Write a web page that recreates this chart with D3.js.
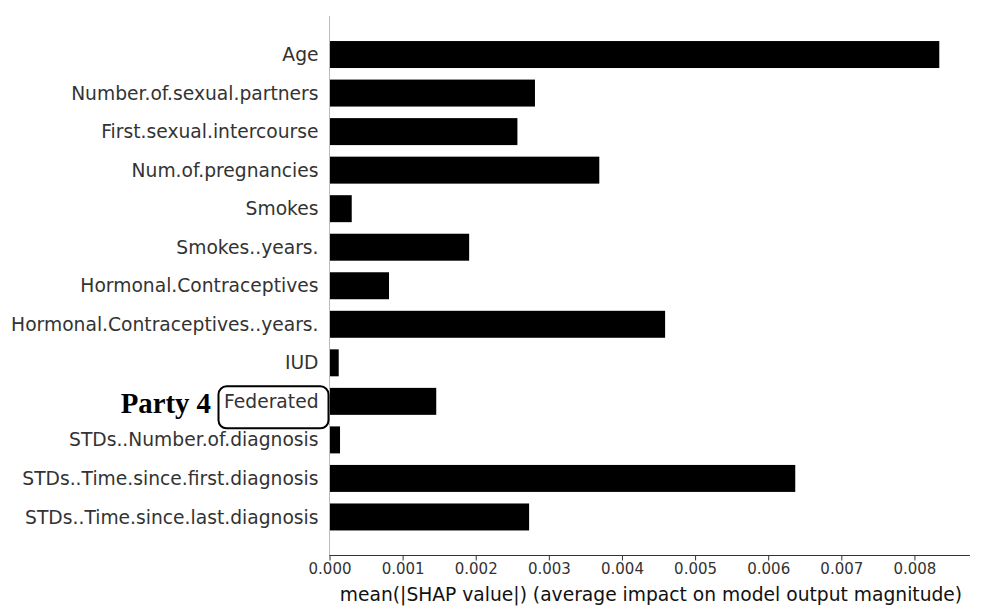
<!DOCTYPE html>
<html><head><meta charset="utf-8">
<script src="https://cdn.jsdelivr.net/npm/d3@7"></script>
<style>body{margin:0;background:#fff}svg{display:block}</style>
</head><body>
<svg id="c" width="985" height="616"></svg>
<script>
const features = ["Age","Number.of.sexual.partners","First.sexual.intercourse","Num.of.pregnancies","Smokes","Smokes..years.","Hormonal.Contraceptives","Hormonal.Contraceptives..years.","IUD","Federated","STDs..Number.of.diagnosis","STDs..Time.since.first.diagnosis","STDs..Time.since.last.diagnosis"];
const values = [0.00834,0.00281,0.00257,0.00369,0.000304,0.00191,0.000814,0.00459,0.000126,0.00146,0.000144,0.00637,0.00273];
const xTicks = [0,0.001,0.002,0.003,0.004,0.005,0.006,0.007,0.008];
const xLabel = "mean(|SHAP value|) (average impact on model output magnitude)";
const partyLabel = "Party 4";
const boxedFeature = "Federated";

const svg = d3.select("#c");
const mLeft = 329.5, mRight = 970, mTop = 16, mBottom = 555.5;
const x = d3.scaleLinear().domain([0, 0.00876]).range([mLeft, mRight]);
const y = d3.scaleLinear().domain([-1, features.length]).range([mTop, mBottom]);
const bh = (y(1) - y(0)) * 0.7;

svg.selectAll("rect.bar").data(features).join("rect").attr("class","bar")
  .attr("x", x(0)).attr("y", (d,i)=>y(i)-bh/2)
  .attr("width", (d,i)=>x(values[i])-x(0)).attr("height", bh)
  .attr("fill","#000");

svg.selectAll("text.yl").data(features).join("text").attr("class","yl")
  .attr("x", mLeft-11).attr("y",(d,i)=>y(i)).attr("dy","0.35em")
  .attr("text-anchor","end").attr("font-family","DejaVu Sans").attr("font-size",18.7)
  .attr("fill","#333").text(d=>d);

svg.append("line").attr("x1",mLeft).attr("x2",mLeft).attr("y1",mTop).attr("y2",mBottom)
  .attr("stroke","#bbb").attr("stroke-width",1);

const xa = svg.append("g").attr("transform",`translate(0,${mBottom})`)
  .call(d3.axisBottom(x).tickValues(xTicks).tickFormat(d3.format(".3f")).tickSize(5).tickSizeOuter(0));
xa.select(".domain").attr("stroke","#333").attr("stroke-width",1.2).attr("d",`M${mLeft},0H${mRight}`);
xa.selectAll(".tick line").attr("stroke","#333");
xa.selectAll(".tick text").attr("font-family","DejaVu Sans").attr("font-size",15).attr("fill","#333").attr("y",8);
svg.append("text").attr("x",651).attr("y",601).attr("text-anchor","middle")
  .attr("font-family","DejaVu Sans").attr("font-size",18.7).attr("fill","#111").text(xLabel);

const fi = features.indexOf(boxedFeature);
svg.append("rect").attr("x",218.5).attr("y",y(fi)-15).attr("width",110).attr("height",42)
  .attr("rx",8).attr("fill","none").attr("stroke","#000").attr("stroke-width",2);
svg.append("text").attr("x",211).attr("y",y(fi)+12).attr("text-anchor","end")
  .attr("font-family","Liberation Serif").attr("font-weight","bold").attr("font-size",28.8)
  .attr("fill","#000").text(partyLabel);
</script>
</body></html>
